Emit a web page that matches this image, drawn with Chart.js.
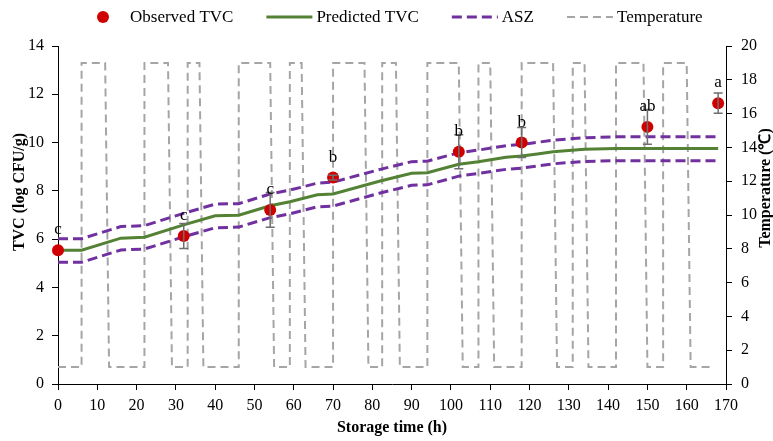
<!DOCTYPE html>
<html>
<head>
<meta charset="utf-8">
<script src="https://cdn.jsdelivr.net/npm/chart.js@4.4.1/dist/chart.umd.min.js"></script>
<style>
  html, body { margin: 0; padding: 0; background: #fff; }
</style>
</head>
<body>
<canvas id="myChart" width="773" height="441"></canvas>
<script>
// observed TVC (log CFU/g), SD and letters
const obsTime = [0, 32, 54, 70, 102, 118, 150, 168];
const obsTVC = [5.54, 6.13, 7.21, 8.55, 9.62, 10.0, 10.65, 11.63];
const obsErr = [0, 0.52, 0.72, 0.1, 0.7, 0.62, 0.72, 0.42];
const obsLetters = ['c', 'c', 'c', 'b', 'b', 'b', 'ab', 'a'];

// predicted TVC and the ASZ band
const predTime = [0, 6, 16, 22, 32, 40, 46, 54, 59, 66, 70, 82, 90, 94, 102, 107, 114, 118, 122, 126, 134, 142, 168];
const predTVC = [5.54, 5.54, 6.04, 6.08, 6.59, 6.97, 6.99, 7.38, 7.55, 7.84, 7.87, 8.41, 8.73, 8.75, 9.10, 9.21, 9.39, 9.44, 9.53, 9.62, 9.72, 9.75, 9.75];
const aszUpper = [6.02, 6.02, 6.52, 6.56, 7.07, 7.45, 7.47, 7.87, 8.03, 8.32, 8.36, 8.89, 9.21, 9.23, 9.58, 9.69, 9.87, 9.92, 10.01, 10.10, 10.20, 10.24, 10.24];
const aszLower = [5.04, 5.04, 5.55, 5.59, 6.10, 6.47, 6.50, 6.89, 7.05, 7.34, 7.37, 7.91, 8.23, 8.25, 8.61, 8.72, 8.89, 8.94, 9.03, 9.12, 9.22, 9.25, 9.25];

// temperature profile (h, °C)
const tempTime = [0, 6, 6, 12, 13, 22, 22, 28, 29, 33, 33, 36, 37, 46, 46, 54, 55, 59, 59, 62,
  63, 70, 70, 78, 79, 82.5, 82.5, 86, 87, 94, 94, 102, 103, 107, 107, 110, 111, 118, 118, 126,
  127, 131, 131, 134, 135, 142, 142, 149, 150, 154, 154, 160, 161, 167];
const tempValue = [1, 1, 19, 19, 1, 1, 19, 19, 1, 1, 19, 19, 1, 1, 19, 19, 1, 1, 19, 19,
  1, 1, 19, 19, 1, 1, 19, 19, 1, 1, 19, 19, 1, 1, 19, 19, 1, 1, 19, 19,
  1, 1, 19, 19, 1, 1, 19, 19, 1, 1, 19, 19, 1, 1];

// axis ticks
const xTicks = [0, 10, 20, 30, 40, 50, 60, 70, 80, 90, 100, 110, 120, 130, 140, 150, 160, 170];
const yTicks = [0, 2, 4, 6, 8, 10, 12, 14];
const y2Ticks = [0, 2, 4, 6, 8, 10, 12, 14, 16, 18, 20];

const RED = '#D00000', GREEN = '#548235', PURPLE = '#7030A0', GREY = '#A5A5A5';
const serif = 'Liberation Serif';

const pts = (xs, ys) => xs.map((v, i) => ({ x: v, y: ys[i] }));

const decorations = {
  id: 'decorations',
  afterDatasetsDraw(chart) {
    const { ctx, scales: { x, y } } = chart;
    ctx.save();
    ctx.strokeStyle = '#6E6E6E';
    ctx.lineWidth = 1.5;
    ctx.fillStyle = '#000';
    ctx.font = '17px "' + serif + '"';
    ctx.textAlign = 'center';
    ctx.textBaseline = 'alphabetic';
    obsTime.forEach((t, i) => {
      const px = x.getPixelForValue(t);
      if (obsErr[i] > 0) {
        const top = y.getPixelForValue(obsTVC[i] + obsErr[i]);
        const bot = y.getPixelForValue(obsTVC[i] - obsErr[i]);
        ctx.beginPath();
        ctx.moveTo(px, top); ctx.lineTo(px, bot);
        ctx.moveTo(px - 4.5, top); ctx.lineTo(px + 4.5, top);
        ctx.moveTo(px - 4.5, bot); ctx.lineTo(px + 4.5, bot);
        ctx.stroke();
      }
      ctx.fillText(obsLetters[i], px, y.getPixelForValue(obsTVC[i]) - 16);
    });
    ctx.restore();
  },
  afterDraw(chart) {
    const ctx = chart.ctx;
    ctx.save();
    // legend
    const items = [
      { text: 'Observed TVC', kind: 'dot' },
      { text: 'Predicted TVC', color: GREEN, dash: [], width: 3 },
      { text: 'ASZ', color: PURPLE, dash: [10, 5], width: 3 },
      { text: 'Temperature', color: GREY, dash: [8, 5], width: 2 }
    ];
    ctx.font = '17px "' + serif + '"';
    ctx.textBaseline = 'middle';
    ctx.textAlign = 'left';
    let lx = 80;
    const ly = 17;
    items.forEach(it => {
      if (it.kind === 'dot') {
        ctx.fillStyle = RED;
        ctx.beginPath();
        ctx.arc(lx + 23, ly, 6, 0, Math.PI * 2);
        ctx.fill();
      } else {
        ctx.strokeStyle = it.color;
        ctx.lineWidth = it.width;
        ctx.setLineDash(it.dash);
        ctx.beginPath();
        ctx.moveTo(lx, ly); ctx.lineTo(lx + 46, ly);
        ctx.stroke();
        ctx.setLineDash([]);
      }
      ctx.fillStyle = '#000';
      ctx.fillText(it.text, lx + 50, ly + 1);
      lx += 50 + ctx.measureText(it.text).width + 33;
    });
    // axis titles
    ctx.font = 'bold 16px "' + serif + '"';
    ctx.textAlign = 'center';
    ctx.fillText('Storage time (h)', 392, 428);

    ctx.save();
    ctx.translate(20, 192);
    ctx.rotate(-Math.PI / 2);
    ctx.fillText('TVC (log CFU/g)', 0, 0);
    ctx.restore();

    ctx.save();
    ctx.translate(766, 188);
    ctx.rotate(-Math.PI / 2);
    ctx.fillText('Temperature (℃)', 0, 0);
    ctx.restore();

    ctx.restore();
  }
};

const tickFont = { family: serif, size: 16 };
const axisGrid = { drawOnChartArea: false, color: '#000', tickLength: 6 };
const axisBorder = { color: '#000', width: 1 };

new Chart(document.getElementById('myChart'), {
  type: 'line',
  data: {
    datasets: [
      {
        label: 'Observed TVC',
        data: pts(obsTime, obsTVC),
        showLine: false,
        pointRadius: 6,
        pointBackgroundColor: RED,
        pointBorderWidth: 0,
        yAxisID: 'y',
        clip: false,
        order: 0
      },
      {
        label: 'Predicted TVC',
        data: pts(predTime, predTVC),
        borderColor: GREEN,
        borderWidth: 3,
        pointRadius: 0,
        yAxisID: 'y',
        order: 1
      },
      {
        label: 'ASZ',
        data: pts(predTime, aszUpper),
        borderColor: PURPLE,
        borderWidth: 3,
        borderDash: [10, 5],
        pointRadius: 0,
        yAxisID: 'y',
        order: 2
      },
      {
        label: 'ASZ lower',
        data: pts(predTime, aszLower),
        borderColor: PURPLE,
        borderWidth: 3,
        borderDash: [10, 5],
        pointRadius: 0,
        yAxisID: 'y',
        order: 2
      },
      {
        label: 'Temperature',
        data: pts(tempTime, tempValue),
        borderColor: GREY,
        borderWidth: 2,
        borderDash: [8, 5],
        pointRadius: 0,
        yAxisID: 'y2',
        order: 3
      }
    ]
  },
  options: {
    responsive: false,
    animation: false,
    layout: { padding: { top: 46 } },
    plugins: { legend: { display: false }, tooltip: { enabled: false } },
    scales: {
      x: {
        type: 'linear', min: 0, max: 170,
        afterBuildTicks: s => { s.ticks = xTicks.map(v => ({ value: v })); },
        afterFit: s => { s.height = 57; },
        grid: axisGrid, border: axisBorder,
        ticks: { font: tickFont, color: '#000', padding: 6, autoSkip: false, maxRotation: 0 }
      },
      y: {
        position: 'left', min: 0, max: 14,
        afterBuildTicks: s => { s.ticks = yTicks.map(v => ({ value: v })); },
        afterFit: s => { s.width = 58; },
        grid: axisGrid, border: axisBorder,
        ticks: { font: tickFont, color: '#000', padding: 8 }
      },
      y2: {
        position: 'right', min: 0, max: 20,
        afterBuildTicks: s => { s.ticks = y2Ticks.map(v => ({ value: v })); },
        afterFit: s => { s.width = 47; },
        grid: axisGrid, border: axisBorder,
        ticks: { font: tickFont, color: '#000', padding: 9 }
      }
    }
  },
  plugins: [decorations]
});
</script>
</body>
</html>
